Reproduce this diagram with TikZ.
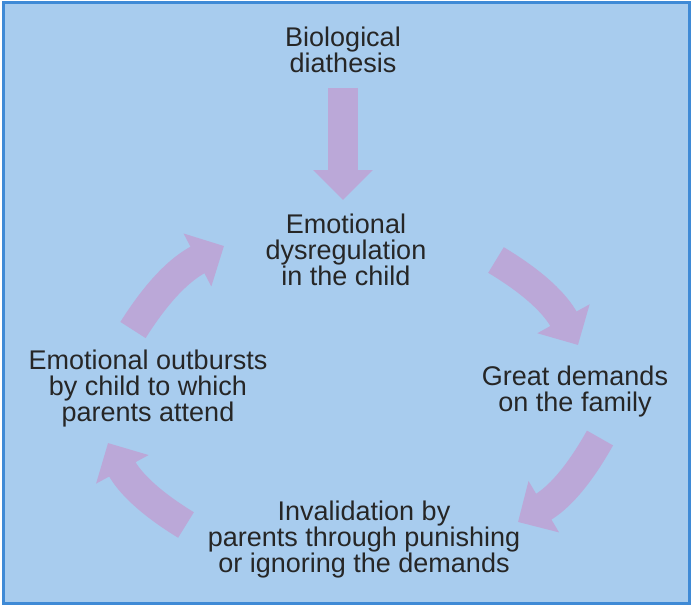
\documentclass[tikz,border=0pt]{standalone}
\usepackage{fontspec}
\setmainfont{Liberation Sans}
\usetikzlibrary{positioning, arrows.meta}
\definecolor{panel}{HTML}{A8CCEE}
\definecolor{frame}{HTML}{3F8AD6}
\definecolor{lilac}{HTML}{BBA8D8}
\begin{document}
\begin{tikzpicture}[x=1pt, y=-1pt,
    every node/.style={align=center, font=\fontsize{27}{26}\selectfont, text=black!85},
    fat/.style={draw=lilac, line width=30pt, -{Triangle[width=58pt, length=30pt]}}]
    % Background
    \useasboundingbox (0,0) rectangle (694,610);
    \draw[frame, fill=panel, line width=3pt] (3,3) rectangle (689,603);

    % Nodes
    \node (bio) at (343,50) {Biological\\diathesis};
    \node (dys) at (346,250) {Emotional\\dysregulation\\in the child};
    \node (dem) at (575,392) {Great demands\\on the family};
    \node (inv) at (364,540) {Invalidation by\\parents through punishing\\or ignoring the demands};
    \node (out) at (148,389) {Emotional outbursts\\by child to which\\parents attend};

    % Coordinates for the arrows
    \coordinate (b1) at (343,88);  \coordinate (b2) at (343,200);
    \coordinate (r1) at (496,260); \coordinate (r2) at (578,345);
    \coordinate (s1) at (600,438); \coordinate (s2) at (518,522);
    \coordinate (l1) at (186,525); \coordinate (l2) at (108,443);
    \coordinate (t1) at (133,330); \coordinate (t2) at (224,246);

    % Arrows
    \draw[fat] (b1) -- (b2);
    \draw[fat] (r1) to[bend left=15] (r2);
    \draw[fat] (s1) to[bend left=15] (s2);
    \draw[fat] (l1) to[bend left=15] (l2);
    \draw[fat] (t1) to[bend left=15] (t2);
\end{tikzpicture}
\end{document}
